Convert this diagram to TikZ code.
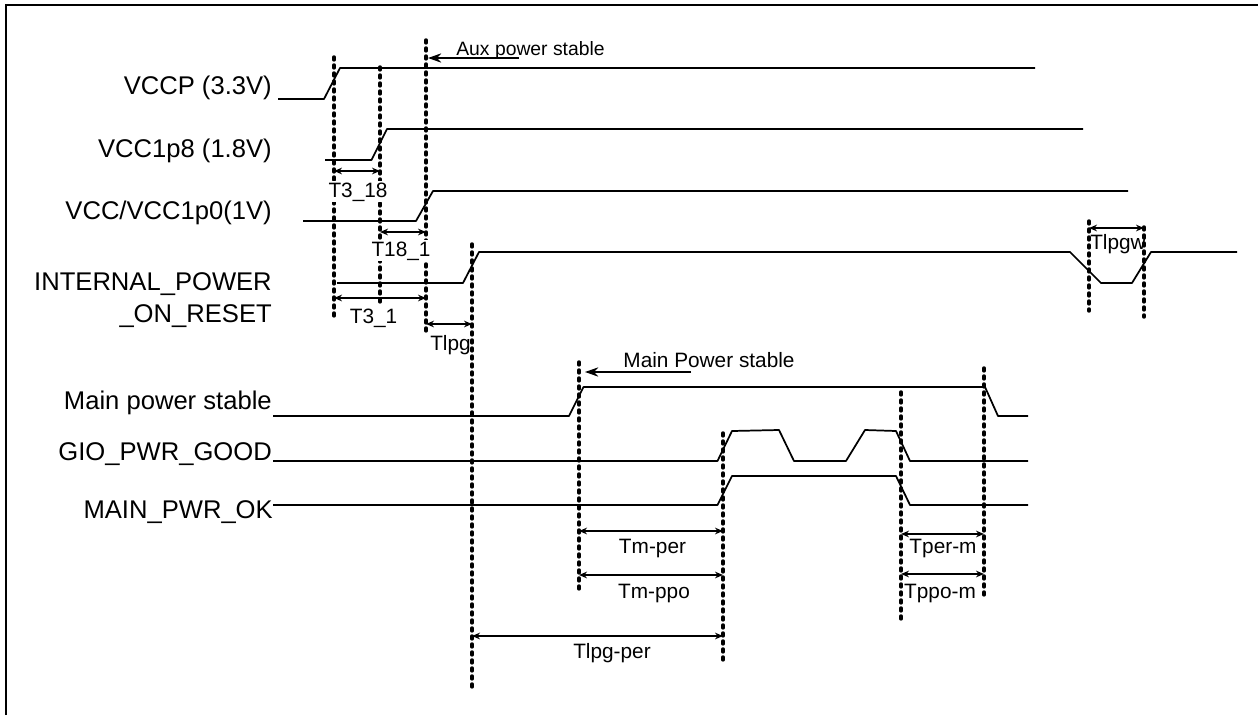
\documentclass[tikz,border=0pt]{standalone}
\usepackage{fontspec}
\setmainfont{Liberation Sans}
\usetikzlibrary{arrows.meta}
\begin{document}
\begin{tikzpicture}[x=0.75pt,y=-0.75pt,
  signal/.style={line width=1.3pt,line join=round},
  guide/.style={line width=2.6pt,line cap=round,dash pattern=on 2.2pt off 3.8pt},
  dim/.style={{Stealth[length=6pt,width=5pt]}-{Stealth[length=6pt,width=5pt]},line width=1.1pt},
  callout/.style={-{Stealth[length=10pt,width=7pt]},line width=1.1pt},
  signame/.style={inner sep=0pt,anchor=base east,font=\fontsize{19.2}{24}\selectfont},
  tlabel/.style={inner sep=0pt,anchor=base,font=\fontsize{15.6}{19}\selectfont},
  mask/.style={tlabel,fill=white,inner sep=1pt}]
\useasboundingbox (0,0) rectangle (1258,715);
\draw[line width=1.7pt] (6,715) -- (6,5) -- (1258,5);

\coordinate (g33) at (334,0);
\coordinate (g18) at (380,0);
\coordinate (g10) at (426,0);
\coordinate (glpg) at (472,0);
\coordinate (gwa) at (1089,0);
\coordinate (gwb) at (1144,0);
\coordinate (gm) at (579,0);
\coordinate (gper) at (723,0);
\coordinate (gpo) at (901,0);
\coordinate (gmo) at (984,0);

\draw[signal] (278,99) -- (324,99) -- (340,68) -- (1035,68);
\draw[signal] (325,160) -- (371.5,160) -- (387,129) -- (1083,129);
\draw[signal] (303,221) -- (416,221) -- (433,191) -- (1128,191);
\draw[signal] (337,283) -- (463,283) -- (479,252) -- (1070,252) -- (1101,283)
  -- (1132,283) -- (1151,252) -- (1237,252);
\draw[signal] (273,416) -- (569,416) -- (583.5,387) -- (985,387) -- (998,416) -- (1028,416);
\draw[signal] (273,461) -- (717.5,461) -- (732,431) -- (779,430) -- (794,461) -- (846,461)
  -- (865,430) -- (896,431) -- (910,461) -- (1028,461);
\draw[signal] (273,505) -- (717.5,505) -- (732,476) -- (896,476) -- (910,505) -- (1028,505);

\draw[guide] (g33|-0,57) -- (g33|-0,318);
\draw[guide] (g18|-0,67) -- (g18|-0,305);
\draw[guide] (g10|-0,40) -- (g10|-0,333);
\draw[guide] (glpg|-0,244) -- (glpg|-0,687);
\draw[guide] (gwa|-0,221) -- (gwa|-0,311);
\draw[guide] (gwb|-0,227) -- (gwb|-0,317);
\draw[guide] (gm|-0,362) -- (gm|-0,591);
\draw[guide] (gper|-0,433) -- (gper|-0,663);
\draw[guide] (gpo|-0,392) -- (gpo|-0,622);
\draw[guide] (gmo|-0,368) -- (gmo|-0,597);

\draw[dim] (g33|-0,171) -- (g18|-0,171);
\draw[dim] (g18|-0,232) -- (g10|-0,232);
\draw[dim] (g33|-0,298) -- (g10|-0,298);
\draw[dim] (g10|-0,324) -- (glpg|-0,324);
\draw[dim] (gwa|-0,228) -- (gwb|-0,228);
\draw[dim] (gm|-0,531) -- (gper|-0,531);
\draw[dim] (gm|-0,575) -- (gper|-0,575);
\draw[dim] (gpo|-0,534) -- (gmo|-0,534);
\draw[dim] (gpo|-0,574) -- (gmo|-0,574);
\draw[dim] (glpg|-0,636) -- (gper|-0,636);

\coordinate (auxend) at (519,58);
\coordinate (mainend) at (691,372);
\draw[callout] (auxend) -- (428,58);
\draw[callout] (mainend) -- (585,372);

\node[signame] (vccp) at (272,94.5) {VCCP (3.3V)};
\node[signame] (vcc18) at (272,157.5) {VCC1p8 (1.8V)};
\node[signame] (vcc10) at (272,219.5) {VCC/VCC1p0(1V)};
\node[signame] (ipor) at (272,290) {INTERNAL\_POWER};
\node[signame] (ipor2) at (272,322) {\_ON\_RESET};
\node[signame] (mainps) at (272,409) {Main power stable};
\node[signame] (gio) at (272,460) {GIO\_PWR\_GOOD};
\node[signame] (mainok) at (273,518) {MAIN\_PWR\_OK};

\node[tlabel,font=\fontsize{14.5}{18}\selectfont] (aux) at (530.5,55) {Aux power stable};
\node[tlabel] (mainst) at (709,367) {Main Power stable};
\node[mask] (t318) at (358,197) {T3\_18};
\node[mask] (t181) at (401,256) {T18\_1};
\node[tlabel] (t31) at (373.5,323.5) {T3\_1};
\node[tlabel] (tlpg) at (450.5,350.5) {Tlpg};
\node[tlabel] (tlpgw) at (1118,249) {Tlpgw};
\node[tlabel] (tmper) at (652.5,553) {Tm-per};
\node[tlabel] (tmppo) at (654,598) {Tm-ppo};
\node[tlabel] (tlpgper) at (612,658) {Tlpg-per};
\node[tlabel] (tperm) at (943,553) {Tper-m};
\node[tlabel] (tppom) at (940,598) {Tppo-m};
\end{tikzpicture}
\end{document}
